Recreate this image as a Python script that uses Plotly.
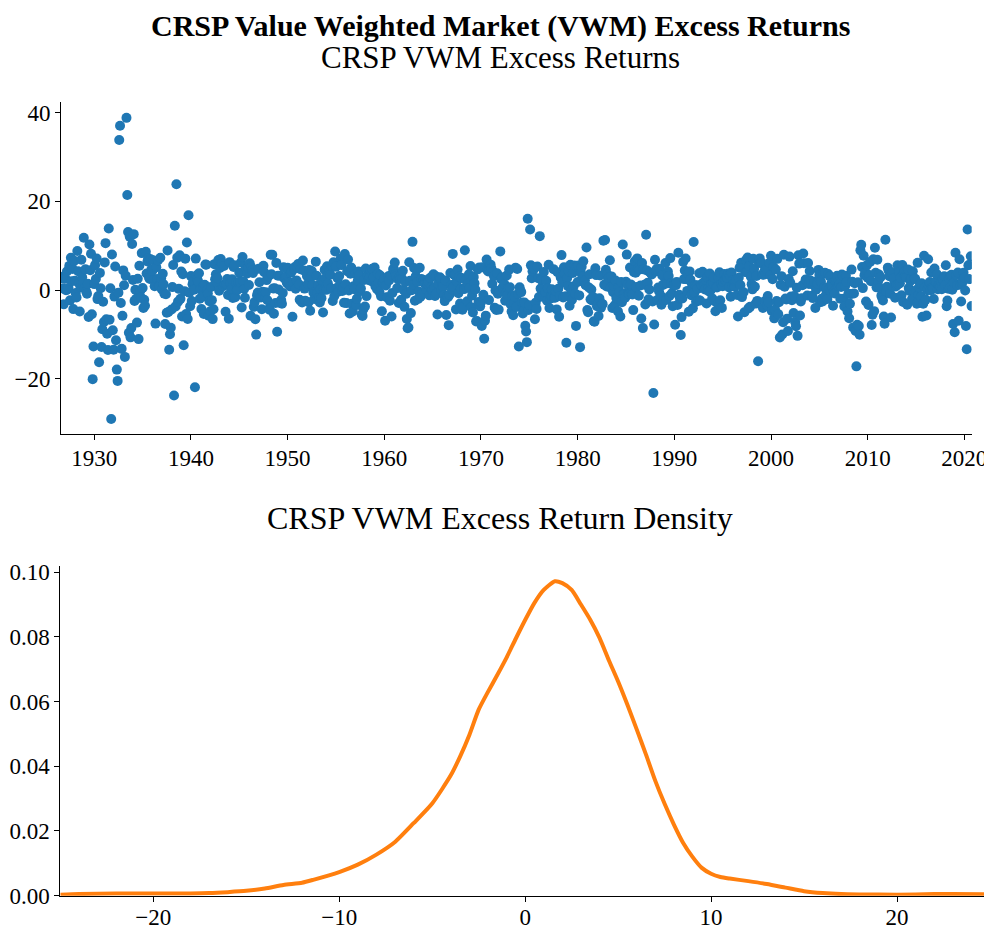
import plotly.graph_objects as go

# Monthly CRSP value-weighted market excess returns (%), Jul 1926 - Sep 2020
r1920s = [2.96, 2.64, 0.36, -3.24, 2.53, 2.62,
          -0.06, 4.18, 0.13, 0.46, 5.44, -2.34, 7.26, 1.97, 4.76, -4.31, 6.58, 2.09,
          -0.68, -1.70, 8.81, 4.23, 1.52, -4.85, 0.62, 6.84, 2.87, 1.34, 11.80, 0.36,
          4.66, -0.34, -0.84, 1.39, -6.08, 10.27, 4.46, 8.18, -5.47, -20.12, -12.74, 1.33]
r1930s = [5.61, 2.50, 7.10, -2.05, -1.36, -16.29, 3.86, 0.40, -12.85, -8.84, -2.66, -7.23,
          6.23, 10.58, -6.59, -9.89, -13.53, 13.89, -6.73, 0.40, -29.13, 8.03, -9.09, -13.46,
          -1.49, 5.32, -11.33, -17.97, -20.51, -0.60, 33.84, 37.06, -2.94, -13.28, -5.80, 4.43,
          1.08, -15.10, 3.24, 38.85, 21.43, 13.11, -9.63, 12.05, -10.69, -8.57, 10.38, 2.24,
          12.61, -2.46, 0.07, -2.00, -7.36, 2.54, -11.08, 5.47, -0.22, -1.68, 8.33, 0.45,
          -4.07, -2.19, -3.54, 8.62, 3.74, 6.44, 7.16, 2.77, 2.48, 6.94, 4.66, 4.30,
          6.72, 2.28, 0.85, -7.58, 5.11, 2.48, 6.68, 1.02, 0.92, 7.28, 2.65, 0.12,
          3.66, 1.31, -0.81, -7.68, -0.96, -5.13, 8.94, -4.96, -13.49, -9.98, -8.53, -4.41,
          0.65, 5.65, -23.82, 14.51, -3.70, 23.87, 7.30, -2.63, 0.26, 7.82, -2.00, 4.19,
          -5.97, 3.54, -12.45, -0.26, 7.08, -5.43, 10.71, -6.53, 16.88, -0.59, -3.68, 3.14]
r1940s = [-2.49, 1.31, 1.99, 0.05, -21.96, 7.09, 3.28, 2.40, 1.85, 3.80, -1.98, 0.15,
          -4.30, -1.49, 0.83, -5.39, 1.18, 5.75, 5.72, -0.06, -0.80, -5.79, -2.53, -4.81,
          0.66, -2.29, -6.57, -4.34, 5.84, 2.42, 3.57, 1.71, 2.64, 6.77, -0.15, 4.99,
          7.00, 6.01, 6.01, 0.85, 5.40, 1.29, -4.91, 1.35, 2.48, -1.11, -6.47, 6.29,
          1.59, 0.24, 2.42, -1.79, 5.22, 5.58, -1.61, 1.61, -0.05, 0.13, 1.74, 3.90,
          1.90, 6.19, -3.95, 7.46, 1.97, 0.24, -1.73, 5.33, 4.81, 3.73, 5.02, 1.14,
          6.04, -5.81, 5.10, 4.37, 3.84, -3.80, -2.74, -6.58, -10.07, -1.20, -0.58, 4.77,
          1.75, -1.05, -1.69, -4.34, -0.37, 5.47, 4.00, -1.71, -0.50, 2.23, -2.33, 3.03,
          -4.23, -4.48, 7.97, 3.54, 7.95, 0.33, -5.34, 0.37, -2.93, 6.12, -9.44, 3.22,
          0.13, -2.85, 3.22, -2.27, -3.11, -0.68, 5.15, 2.59, 2.67, 3.00, 1.63, 5.05]
r1950s = [1.24, 1.65, 0.82, 3.87, 4.17, -6.04, 1.64, 4.73, 5.21, 0.28, 2.17, 5.16,
          5.86, 1.28, -2.20, 4.70, -2.51, -2.82, 6.64, 4.42, 0.32, -2.45, 0.66, 3.15,
          1.43, -2.77, 4.52, -4.67, 2.86, 4.29, 1.08, -0.54, -2.03, -0.62, 6.40, 3.21,
          -0.64, 1.07, -1.73, -2.83, 0.14, -1.84, 2.15, -5.09, 0.09, 4.56, 2.72, 0.03,
          5.37, 1.49, 3.77, 4.28, 3.44, 0.36, 5.48, -2.48, 6.25, -1.35, 8.69, 5.26,
          0.43, 2.64, -0.38, 3.15, 1.19, 7.13, 5.62, -0.22, 0.60, -2.86, 8.12, 1.31,
          -2.96, 4.23, 6.89, -0.13, -5.32, 3.68, 5.09, -3.13, -4.86, 0.87, 0.19, 3.64,
          -3.41, -1.94, 2.03, 4.18, 3.38, -0.28, 0.35, -5.52, -5.84, -4.32, 2.28, -3.74,
          4.84, -1.38, 3.22, 3.20, 2.23, 2.92, 4.47, 1.98, 4.79, 2.60, 2.91, 5.08,
          0.78, 0.93, 0.19, 3.67, 1.68, -0.42, 3.29, -1.42, -4.78, 1.64, 1.73, 2.56]
r1960s = [-6.93, 1.03, -1.64, -1.71, 3.12, 2.15, -2.42, 3.33, -5.98, -0.66, 4.72, 4.71,
          6.19, 3.52, 3.14, 0.43, 2.42, -2.92, 2.91, 2.56, -2.20, 2.56, 4.34, 0.03,
          -3.80, 1.84, -0.87, -6.54, -8.65, -8.47, 6.28, 2.11, -5.21, -0.04, 10.87, 1.17,
          4.95, -2.42, 3.10, 4.56, 1.81, -2.03, -0.34, 5.03, -1.53, 2.51, -0.86, 1.83,
          2.24, 1.54, 1.41, 0.10, 1.42, 1.27, 1.74, -1.21, 2.76, 0.64, -0.07, 0.05,
          3.54, 0.44, -1.33, 3.11, -0.77, -5.51, 1.43, 2.73, 2.86, 2.60, -0.03, 1.01,
          0.72, -1.21, -2.51, 2.14, -5.66, -1.44, -1.64, -7.93, -1.06, 3.82, 1.14, 0.13,
          8.15, 0.70, 3.36, 3.45, -4.38, 1.91, 4.61, -0.74, 3.01, -3.05, 0.30, 2.72,
          -4.44, -3.78, 0.20, 8.97, 2.32, 0.77, -2.56, 1.40, 3.56, 0.43, 5.40, -3.89,
          -1.26, -5.08, 2.91, 1.53, 0.13, -7.12, -7.00, 4.66, -2.73, 5.10, -3.69, -2.79]
r1970s = [-8.10, 5.13, -1.06, -11.00, -6.92, -5.79, 6.90, 4.47, 4.18, -2.28, 4.59, 5.72,
          4.84, 1.41, 4.13, 3.15, -3.98, -0.10, -4.50, 3.79, -0.85, -4.42, -0.46, 8.71,
          2.49, 2.87, 0.63, 0.29, 1.34, -2.43, -0.80, 3.29, -1.14, 0.52, 4.60, 0.62,
          -3.29, -4.85, -1.30, -5.68, -2.94, -1.56, 5.05, -3.82, 4.75, -0.83, -12.75, 0.61,
          -0.17, -0.47, -2.81, -5.29, -4.68, -2.83, -8.05, -9.35, -11.77, 16.10, -4.51, -3.45,
          13.66, 5.56, 2.66, 4.23, 5.19, 4.83, -6.59, -2.85, -4.26, 5.31, 2.64, -1.60,
          12.16, 0.32, 2.32, -1.49, -1.34, 4.05, -1.09, -0.54, 2.09, -2.41, 0.36, 5.69,
          -4.05, -1.95, -1.37, 0.15, -1.45, 4.71, -1.69, -1.75, -0.27, -4.38, 4.00, 0.27,
          -6.01, -1.38, 2.85, 7.88, 1.76, -1.69, 5.11, 3.75, -1.43, -11.91, 2.71, 0.88,
          4.23, -3.56, 5.68, -0.06, -2.21, 3.85, 0.82, 5.53, -0.82, -8.10, 5.21, 1.79]
r1980s = [5.51, -1.22, -12.90, 3.97, 5.26, 3.06, 6.49, 1.80, 2.19, 1.06, 9.59, -4.52,
          -5.04, 0.57, 3.56, -2.11, 0.11, -2.36, -1.54, -7.04, -7.17, 4.92, 3.36, -3.65,
          -3.24, -5.86, -1.87, 3.27, -3.99, -3.08, -3.19, 11.14, 1.17, 11.27, 4.56, 0.78,
          3.50, 2.40, 2.84, 6.71, 0.52, 3.07, -4.07, -0.50, 0.91, -3.44, 2.16, -1.78,
          -1.92, -4.82, 0.63, -0.51, -5.97, 1.82, -2.74, 10.28, -0.80, -0.84, -1.76, 1.84,
          7.99, 1.22, -0.84, -0.96, 5.09, 1.27, -0.74, -1.02, -4.54, 4.02, 6.48, 3.88,
          0.65, 7.13, 4.88, -1.31, 4.62, 1.03, -6.45, 6.07, -8.60, 4.66, 1.17, -3.27,
          12.47, 4.39, 1.64, -2.11, 0.11, 3.94, 3.85, 3.52, -2.59, -23.24, -7.77, 6.81,
          4.21, 4.75, -2.27, 0.56, -0.29, 4.79, -1.25, -3.31, 3.30, 1.15, -2.29, 1.49,
          6.10, -2.25, 1.50, 4.18, 3.15, -1.35, 7.20, 1.44, -0.76, -3.67, 1.10, 1.19]
r1990s = [-7.85, 1.11, 1.83, -3.36, 8.42, -1.09, -1.90, -10.15, -6.12, -1.92, 6.35, 2.46,
          4.39, 7.10, 2.44, -0.20, 3.61, -4.90, 4.20, 2.34, -1.18, 1.30, -4.14, 10.84,
          -0.59, 1.09, -2.66, 1.07, 0.30, -2.34, 3.77, -2.38, 1.19, 1.02, 4.13, 1.66,
          0.93, 0.12, 2.30, -3.05, 2.89, 0.31, -0.34, 3.71, -0.12, 1.41, -1.89, 1.65,
          2.87, -2.55, -4.78, 0.68, 0.58, -3.03, 2.78, 4.01, -2.31, 1.34, -4.04, 0.86,
          1.80, 3.63, 2.19, 2.11, 2.90, 2.72, 3.72, 0.55, 3.35, -1.52, 3.96, 1.03,
          2.26, 1.33, 0.73, 2.06, 2.36, -1.14, -5.97, 2.77, 5.01, 1.10, 6.13, -1.60,
          4.99, -0.49, -5.02, 4.04, 6.74, 4.10, 7.33, -4.15, 5.35, -3.80, 2.98, 1.32,
          0.15, 7.03, 4.76, 0.73, -3.07, 3.18, -2.46, -16.08, 6.15, 7.13, 6.10, 6.16,
          3.50, -4.08, 3.45, 4.33, -2.46, 4.77, -3.49, -1.38, -2.79, 6.12, 3.37, 7.72]
r2000s = [-4.74, 2.45, 5.20, -6.40, -4.42, 4.64, -2.51, 7.03, -5.45, -2.76, -10.72, 1.19,
          3.13, -10.05, -7.26, 7.94, 0.72, -1.94, -2.13, -6.46, -9.25, 2.46, 7.54, 1.61,
          -1.44, -2.29, 4.24, -5.20, -1.38, -7.21, -8.18, 0.50, -10.35, 7.84, 5.96, -5.76,
          -2.57, -1.88, 1.09, 8.22, 6.05, 1.42, 2.35, 2.34, -1.24, 6.08, 1.35, 4.29,
          2.15, 1.40, -1.32, -1.83, 1.17, 1.86, -4.06, 0.08, 1.60, 1.43, 4.54, 3.43,
          -2.76, 1.89, -1.97, -2.61, 3.65, 0.57, 3.92, -1.22, 0.49, -2.02, 3.61, 0.03,
          3.04, -0.30, 1.46, 0.73, -3.57, -0.35, -0.78, 2.03, 1.84, 3.23, 1.71, 0.87,
          1.40, -1.96, 0.68, 3.49, 3.24, -1.96, -3.73, 0.92, 3.22, 1.80, -4.83, -0.87,
          -6.36, -3.09, -0.93, 4.60, 1.86, -8.44, -0.77, 1.53, -9.24, -17.23, -7.86, 1.74,
          -8.12, -10.10, 8.95, 10.19, 5.21, 0.43, 7.72, 3.33, 4.08, -2.59, 5.56, 2.75]
r2010s = [-3.36, 3.40, 6.31, 2.00, -7.89, -5.56, 6.93, -4.77, 9.54, 3.88, 0.60, 6.82,
          1.99, 3.49, 0.45, 2.90, -1.27, -1.75, -2.36, -5.99, -7.59, 11.35, -0.28, 0.74,
          5.05, 4.42, 3.11, -0.85, -6.19, 3.89, 0.79, 2.55, 2.73, -1.76, 0.78, 1.18,
          5.57, 1.29, 4.03, 1.55, 2.80, -1.20, 5.65, -2.71, 3.77, 4.18, 3.12, 2.81,
          -3.32, 4.65, 0.43, -0.19, 2.06, 2.61, -2.04, 4.24, -1.97, 2.52, 2.55, -0.06,
          -3.11, 6.13, -1.12, 0.59, 1.36, -1.53, 1.54, -6.04, -3.08, 7.75, 0.56, -2.17,
          -5.77, -0.07, 6.96, 0.92, 1.78, -0.05, 3.95, 0.50, 0.25, -2.02, 4.86, 1.81,
          1.94, 3.57, 0.17, 1.09, 1.06, 0.78, 1.87, 0.16, 2.51, 2.25, 3.12, 1.06,
          5.58, -3.65, -2.35, 0.29, 2.65, 0.48, 3.19, 3.44, 0.06, -7.68, 1.69, -9.55,
          8.41, 3.40, 1.10, 3.96, -6.94, 6.93, 1.19, -2.58, 1.43, 2.06, 3.87, 2.77]
r2020s = [-0.11, -8.13, -13.39, 13.65, 5.58, 2.46, 5.77, 7.63, -3.63]

returns = r1920s + r1930s + r1940s + r1950s + r1960s + r1970s + r1980s + r1990s + r2000s + r2010s + r2020s
start_year = 1926
start_month = 7
# month-end position in decimal years
dates = [start_year + (start_month + i) / 12 for i in range(len(returns))]

# Kernel density of the excess returns
density_x = [-25, -24, -22, -20, -18, -17, -16, -15, -14, -13, -12, -11.4, -10, -9, -8, -7, -6, -5,
             -4, -3.5, -3, -2.5, -2, -1.5, -1, -0.5, 0, 0.5, 1, 1.6, 2, 2.5, 3, 3.5, 4, 4.5, 5,
             5.5, 6, 6.5, 7, 7.5, 8, 8.5, 9, 9.5, 10, 10.5, 11, 12, 13, 14, 15, 16, 17, 18, 20, 22, 23, 25]
density_y = [0.0003, 0.0005, 0.0007, 0.0007, 0.0007, 0.0008, 0.0011, 0.0015, 0.0022, 0.0033, 0.0040,
             0.0049, 0.0073, 0.0096, 0.0127, 0.0166, 0.0224, 0.0285, 0.0372, 0.0430, 0.0497, 0.0575,
             0.0630, 0.0682, 0.0736, 0.0795, 0.0852, 0.0905, 0.0945, 0.0972, 0.0966, 0.0945, 0.0900,
             0.0853, 0.0797, 0.0728, 0.0662, 0.0590, 0.0514, 0.0436, 0.0355, 0.0284, 0.0220, 0.0163,
             0.0120, 0.0086, 0.0068, 0.0058, 0.0053, 0.0045, 0.0036, 0.0025, 0.0014, 0.0008, 0.0005,
             0.0004, 0.0003, 0.0005, 0.0005, 0.0004]

main_title = "CRSP Value Weighted Market (VWM) Excess Returns"
top_title = "CRSP VWM Excess Returns"
bottom_title = "CRSP VWM Excess Return Density"
year_ticks = [1930, 1940, 1950, 1960, 1970, 1980, 1990, 2000, 2010, 2020]
ret_ticks = [-20, 0, 20, 40]
dens_x_ticks = [-20, -10, 0, 10, 20]
dens_y_ticks = [0.0, 0.02, 0.04, 0.06, 0.08, 0.10]

# The page places the figure 8 px in from the top-left corner.
OFF = 8
W, H = 992 - OFF, 929 - OFF


def px(xp):
    return (xp - OFF) / W


def py(yp):
    return 1 - (yp - OFF) / H


SERIF = "Liberation Serif, Times New Roman, serif"
tickfont = dict(family=SERIF, size=23, color="black")

fig = go.Figure()
fig.add_trace(go.Scatter(x=dates, y=returns, mode="markers",
                         marker=dict(color="#1f77b4", size=10, line=dict(width=0)),
                         xaxis="x", yaxis="y", showlegend=False))
fig.add_trace(go.Scatter(x=density_x, y=density_y, mode="lines",
                         line=dict(color="#ff7f0e", width=4, shape="spline", smoothing=0.6),
                         xaxis="x2", yaxis="y2", showlegend=False, cliponaxis=True))

axis_common = dict(showline=True, linecolor="black", linewidth=1, ticks="outside", ticklen=5,
                   tickwidth=1, tickcolor="black", showgrid=False, zeroline=False,
                   tickfont=tickfont, mirror=False, automargin=False)

fig.update_layout(
    width=W, height=H,
    margin=dict(l=0, r=0, t=0, b=0, autoexpand=False),
    paper_bgcolor="white", plot_bgcolor="white",
    xaxis=dict(domain=[px(61), px(971.7)], range=[1926.56, 2020.76], tickvals=year_ticks,
               anchor="y", ticklabelstandoff=-2, **axis_common),
    yaxis=dict(domain=[py(434), py(101.7)], range=[-32.5, 42.5], tickvals=ret_ticks,
               anchor="x", **axis_common),
    xaxis2=dict(domain=[px(60.3), px(990)], range=[-25, 25], tickvals=dens_x_ticks,
                anchor="y2", ticklabelstandoff=-4, **axis_common),
    yaxis2=dict(domain=[py(895.7), py(565.7)], range=[0, 0.102], tickvals=dens_y_ticks,
                tickformat=".2f", anchor="x2", **axis_common),
    annotations=[
        dict(text="<b>" + main_title + "</b>", x=px(500), y=py(26), xref="paper", yref="paper",
             showarrow=False, xanchor="center", yanchor="middle",
             font=dict(family=SERIF, size=30, color="black")),
        dict(text=top_title, x=px(500), y=py(57), xref="paper", yref="paper",
             showarrow=False, xanchor="center", yanchor="middle",
             font=dict(family=SERIF, size=31, color="black")),
        dict(text=bottom_title, x=px(500), y=py(518), xref="paper", yref="paper",
             showarrow=False, xanchor="center", yanchor="middle",
             font=dict(family=SERIF, size=32, color="black")),
    ],
)

fig.write_html("out.html")
